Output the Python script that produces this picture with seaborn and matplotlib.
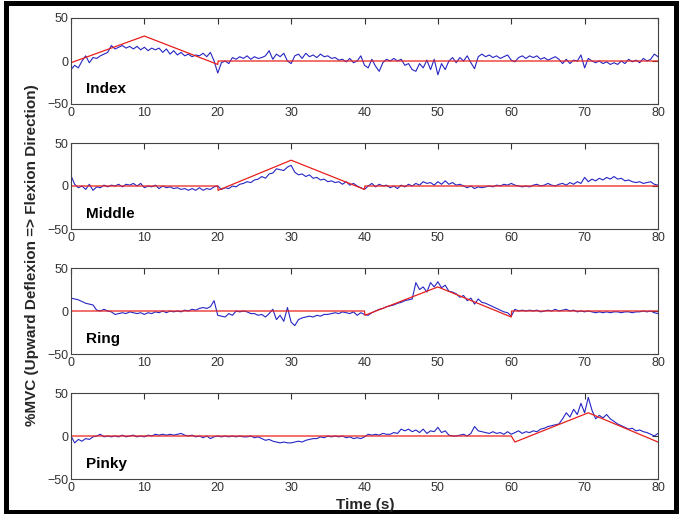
import numpy as np
import pandas as pd
import matplotlib
matplotlib.use("Agg")
import matplotlib.pyplot as plt
from matplotlib.patches import Rectangle
import seaborn as sns

# ---------------- data (0.5 s steps) ----------------
time_s = np.arange(0, 80.01, 0.5)
fingers = ["Index", "Middle", "Ring", "Pinky"]

index_emg = [
    -10, -5, -8, 0, 6, -2, 4, 3, 6, 8,
    10, 18, 14, 16, 18, 15, 17, 14, 17, 13,
    16, 12, 15, 13, 15, 10, 14, 8, 12, 7,
    10, 6, 8, 5, 7, 6, 9, 5, 10, 0,
    -14, -2, 0, -3, 4, 2, 5, 3, 6, 2,
    5, 3, 4, 6, 12, 2, 8, 5, 9, 0,
    -3, 6, 8, 3, 9, 5, 7, 4, 8, 5,
    6, 3, 4, 1, 2, -1, 3, -2, 0, 6,
    -5, -8, 2, -6, -12, -2, 2, 0, 3, 0,
    2, -5, -3, -10, -12, -3, -8, 1, -10, 2,
    -16, -3, -10, 0, 4, -2, 4, 0, 6, -2,
    -9, 5, 8, 5, 7, 4, 6, 3, 5, 7,
    1, -1, 4, 6, 3, 6, 4, 6, 2, 4,
    1, 3, 5, 2, -3, 2, -3, 1, 0, 7,
    -8, 3, 0, -2, 0, -3, -1, -4, -2, -4,
    0, -3, 2, -1, 1, -2, 3, 0, 2, 8,
    5]

middle_emg = [
    12, 2, -2, 0, -4, 2, -5, -1, -2, 1,
    -1, 1, 0, 2, -1, 2, 1, 3, 0, 3,
    -2, 0, -1, 1, -3, 0, -2, -1, -3, -2,
    -4, -3, -5, -3, -5, -2, -5, -3, -4, -1,
    0, -4, -2, -3, 0, -1, 2, 3, 5, 4,
    7, 8, 11, 9, 14, 15, 20, 19, 18, 22,
    24, 16, 13, 14, 11, 13, 9, 10, 7, 8,
    5, 6, 4, 5, 2, 5, 1, 3, 0, -2,
    -4, 0, 3, -1, 2, 0, 1, -2, 0, -3,
    1, -1, 2, 0, 3, 1, 5, 3, 4, 1,
    5, 2, 6, 2, 4, 1, 2, 0, -2, 0,
    -3, -1, -2, -1, 0, -1, 1, 0, 2, 1,
    3, 1, 0, -1, 0, -1, 1, 2, 0, 1,
    3, 1, 0, 2, 3, 1, 4, 2, 5, 3,
    10, 5, 8, 6, 9, 7, 10, 8, 11, 8,
    9, 6, 7, 5, 4, 5, 3, 4, 5, 2,
    1]

ring_emg = [
    15, 14, 13, 11, 9, 8, 7, 1, 0, 2,
    0, -1, -4, -3, -2, -3, -1, -2, -3, -2,
    -4, -2, -3, -1, -2, 0, -2, 0, -1, 0,
    -1, 1, 0, 2, 1, 3, 4, 3, 5, 12,
    -5, -6, -7, -3, -5, 0, -1, 0, -1, -3,
    -3, -5, -4, -7, -3, 2, -10, -5, -12, 4,
    -13, -17, -10, -8, -7, -6, -7, -5, -6, -4,
    -4, -3, -2, -3, -1, -2, -3, -1, -5, -2,
    -4, -5, -2, 0, 2, 3, 5, 6, 7, 9,
    10, 12, 13, 14, 33, 25, 28, 22, 33, 28,
    34, 27, 30, 23, 22, 20, 16, 18, 12, 15,
    8, 14, 10, 9, 7, 5, 3, 1, -1, -2,
    -6, 2, 0, 1, 0, 1, 0, 1, -1, 0,
    1, 0, 2, 0, 1, 2, 0, 1, -1, 0,
    -1, 0, -1, -2, -1, -2, -1, -2, -1, -1,
    -2, -1, -1, -2, -1, -1, 0, -1, 0, -2,
    -3]

pinky_emg = [
    0, -8, -4, -6, -3, -4, -1, 0, 2, -1,
    0, -1, 0, -1, 1, -1, 0, 1, -1, 0,
    -1, 1, 0, 2, 1, 2, 1, 2, 1, 2,
    3, 1, 0, 1, -1, 0, -2, 0, -3, -1,
    0, -1, 0, -1, 0, -1, 0, -1, -1, 0,
    -2, -1, -3, -5, -4, -6, -7, -8, -7, -8,
    -8, -7, -6, -7, -5, -4, -3, -3, -1, -2,
    0, -1, 0, -1, 0, -2, -1, -3, -2, -3,
    -1, 2, 1, 2, 1, 3, 2, 2, 4, 3,
    8, 6, 8, 5, 7, 4, 8, 3, 6, 5,
    10, 4, 6, 1, 0, 0, 1, 2, 0, 3,
    11, 6, 5, 4, 3, 5, 3, 4, 2, 5,
    2, 4, 6, 3, 5, 4, 6, 5, 8, 9,
    11, 12, 13, 14, 20, 27, 22, 31, 25, 38,
    27, 45, 30, 20, 24, 21, 25, 20, 17, 14,
    12, 10, 8, 9, 6, 7, 5, 4, 2, 0,
    3]

# target (red) trajectories: breakpoints
index_target_t = [0, 10, 20, 20.05, 80]
index_target_v = [-2, 29, -4, 0, 0]
middle_target_t = [0, 20, 20.05, 30, 40, 40.05, 80]
middle_target_v = [0, 0, -5, 30, -4, 0, 0]
ring_target_t = [0, 40, 40.05, 50, 60, 60.05, 80]
ring_target_v = [0, 0, -5, 28, -7, 0, 0]
pinky_target_t = [0, 60, 60.5, 70.5, 80]
pinky_target_v = [0, 0, -7, 27, -7]

x_ticks = [0, 10, 20, 30, 40, 50, 60, 70, 80]
y_ticks = [-50, 0, 50]

emg = [index_emg, middle_emg, ring_emg, pinky_emg]
targets = [(index_target_t, index_target_v), (middle_target_t, middle_target_v),
           (ring_target_t, ring_target_v), (pinky_target_t, pinky_target_v)]

# ---------------- plot ----------------
sns.set_style("white")
plt.rcParams["font.family"] = ["Liberation Sans", "DejaVu Sans"]

W, H = 679, 514
fig, axes = plt.subplots(4, 1, figsize=(W / 100, H / 100), dpi=100)
fig.subplots_adjust(left=71 / W, right=658 / W, top=1 - 18 / H, bottom=1 - 479 / H,
                    hspace=39 / 86)

blue = "#2626c4"
red = "#e8201c"
for ax, name, sig, (tt, tv) in zip(axes, fingers, emg, targets):
    df = pd.DataFrame({"t": time_s, "v": sig})
    sns.lineplot(data=df, x="t", y="v", ax=ax, color=blue, lw=0.8,
                 estimator=None, sort=False)
    dft = pd.DataFrame({"t": tt, "v": tv})
    sns.lineplot(data=dft, x="t", y="v", ax=ax, color=red, lw=0.9,
                 estimator=None, sort=False)
    ax.set_xlim(0, 80)
    ax.set_ylim(-50, 50)
    ax.set_xticks(x_ticks)
    ax.set_yticks(y_ticks)
    ax.set_xlabel("")
    ax.set_ylabel("")
    ax.tick_params(direction="in", top=True, right=True, length=4, width=0.8,
                   labelsize=9, colors="#333333", pad=2)
    for sp in ax.spines.values():
        sp.set_color("#444444")
        sp.set_linewidth(0.8)
    ax.text(0.026, 0.17, name, transform=ax.transAxes, fontsize=11,
            fontweight="bold", va="center", ha="left", color="black")

fig.text(32 / W, 1 - 255 / H, "%MVC (Upward Deflexion => Flexion Direction)",
         rotation=90, ha="center", va="center", fontsize=11, fontweight="bold")
fig.text(365 / W, 1 - 505 / H, "Time (s)", ha="center", va="center",
         fontsize=11, fontweight="bold")

fig.patches.append(Rectangle((5.5 / W, 2.5 / H), 1 - 9 / W, 1 - 5 / H,
                             transform=fig.transFigure, fill=False,
                             lw=3.6, ec="black"))

fig.savefig("out.png", dpi=100)
